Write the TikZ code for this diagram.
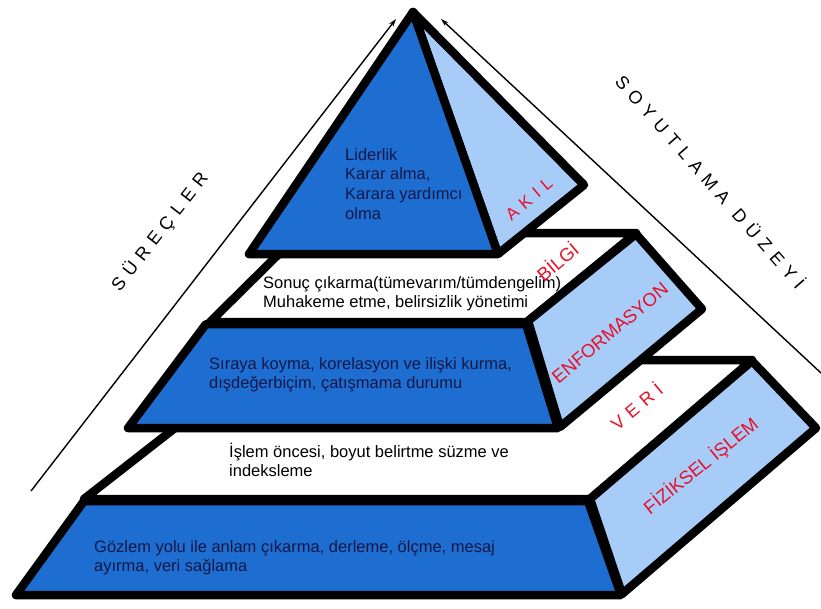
\documentclass[tikz,border=0pt]{standalone}
\usepackage{fontspec}
\setmainfont{Liberation Sans}
\newfontfamily\widefont[LetterSpace=9]{Liberation Sans}
\newfontfamily\redwide[LetterSpace=8]{Liberation Sans}
\usetikzlibrary{arrows.meta}
\definecolor{dblue}{RGB}{30,110,210}
\definecolor{lblue}{RGB}{168,204,248}
\definecolor{lred}{RGB}{232,16,40}
\definecolor{navy}{RGB}{18,24,70}
\begin{document}
\begin{tikzpicture}[x=1pt,y=-1pt,
  face/.style={draw=black,line width=8.5pt,line join=round},
  frontface/.style={face,fill=dblue},
  sideface/.style={face,fill=lblue},
  topface/.style={face,fill=white},
  guide/.style={line width=1.4pt,-{Stealth[length=8pt,width=5pt]}},
  body/.style={anchor=base west,inner sep=0pt,font=\fontsize{16.5}{19.7}\selectfont},
  lab/.style={text=lred,inner sep=0pt,rotate=40,font=\fontsize{18.5}{22}\selectfont},
  axislab/.style={inner sep=0pt,font=\widefont\fontsize{18}{21}\selectfont}]
\useasboundingbox (0,0) rectangle (821,608);
% guide arrows
\coordinate (la) at (31,491);
\coordinate (lb) at (396,19);
\coordinate (ra) at (821,373);
\coordinate (rb) at (441,19);
\draw[guide] (la) -- (lb);
\draw[guide] (ra) -- (rb);
% level 3
\draw[topface] (84,499) -- (262,360) -- (752,360) -- (590,499) -- cycle;
\draw[sideface] (590,499) -- (752,361) -- (816,428) -- (622,594) -- cycle;
\draw[frontface] (84,501) -- (588,501) -- (621,595) -- (16,595) -- cycle;
% level 2
\draw[topface] (210,322) -- (300,233) -- (636,233) -- (527,322) -- cycle;
\draw[sideface] (528,321) -- (636,234) -- (702,309) -- (560,427) -- cycle;
\draw[frontface] (206,324) -- (526,324) -- (558,428) -- (128,428) -- cycle;
% top
\draw[sideface] (413,12) -- (584,185) -- (498,254) -- cycle;
\draw[frontface] (413,12) -- (498,254) -- (249,254) -- cycle;
% texts
\node[body,text=navy] (t1) at (345,160) {\begin{tabular}[t]{@{}l@{}}Liderlik\\Karar alma,\\Karara yardımcı\\olma\end{tabular}};
\node[body] (t2) at (263,288) {\begin{tabular}[t]{@{}l@{}}Sonuç çıkarma(tümevarım/tümdengelim)\\Muhakeme etme, belirsizlik yönetimi\end{tabular}};
\node[body,text=navy] (t3) at (209,369) {\begin{tabular}[t]{@{}l@{}}Sıraya koyma, korelasyon ve ilişki kurma,\\dışdeğerbiçim, çatışmama durumu\end{tabular}};
\node[body] (t4) at (229,457) {\begin{tabular}[t]{@{}l@{}}İşlem öncesi, boyut belirtme süzme ve\\indeksleme\end{tabular}};
\node[body,text=navy] (t5) at (94,552) {\begin{tabular}[t]{@{}l@{}}Gözlem yolu ile anlam çıkarma, derleme, ölçme, mesaj\\ayırma, veri sağlama\end{tabular}};
% red labels
\node[lab,font=\redwide\fontsize{17}{20}\selectfont] (akil) at (529,199) {A K I L};
\node[lab] (bilgi) at (557,261) {BİLGİ};
\node[lab] (enf) at (610,333) {ENFORMASYON};
\node[lab,font=\redwide\fontsize{18}{21}\selectfont] (veri) at (636,406) {V E R İ};
\node[lab,rotate=-1] (fiz) at (701,466) {FİZİKSEL İŞLEM};
% axis labels
\node[axislab,rotate=52] (surec) at (160,232) {S Ü R E Ç L E R};
\node[axislab,rotate=-48.7] (soyut) at (711,181) {S O Y U T L A M A \ D Ü Z E Y İ};
\end{tikzpicture}
\end{document}
